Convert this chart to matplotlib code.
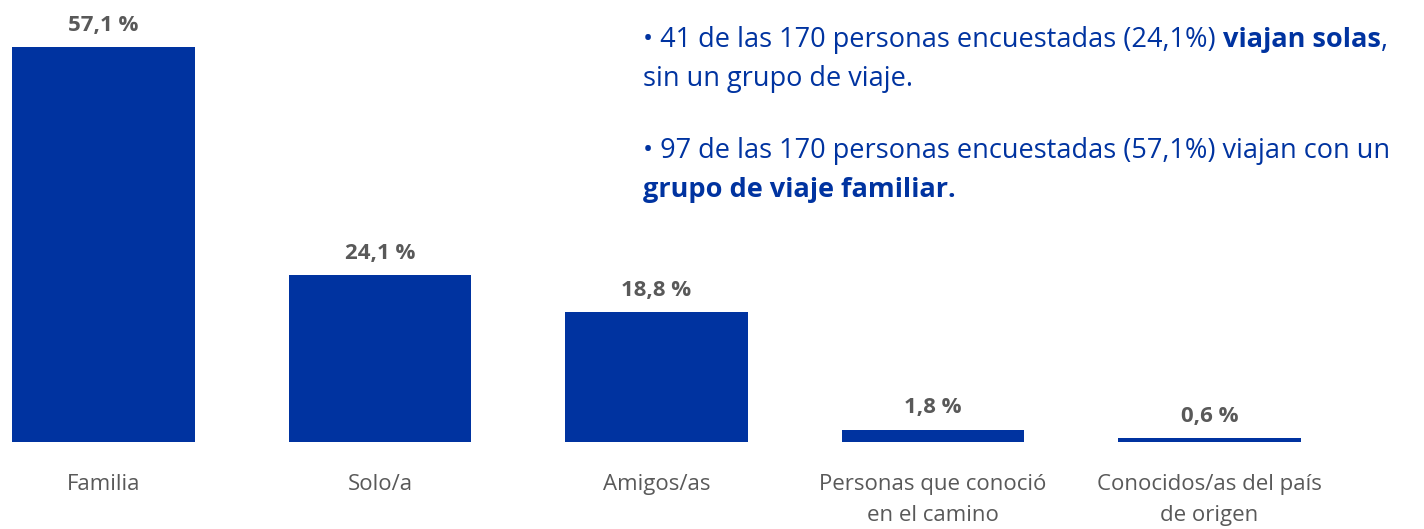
import matplotlib
matplotlib.use("Agg")
import matplotlib.pyplot as plt

plt.rcParams['font.family'] = ['Open Sans', 'DejaVu Sans']

categorias = ['Familia', 'Solo/a', 'Amigos/as', 'Personas que conoció\nen el camino',
              'Conocidos/as del país\nde origen']
porcentajes = [57.1, 24.1, 18.8, 1.8, 0.6]
etiquetas = ['57,1 %', '24,1 %', '18,8 %', '1,8 %', '0,6 %']

linea1 = [('• 41 de las 170 personas encuestadas (24,1%) ', 'normal'), ('viajan solas', 'bold'), (',', 'normal')]
linea2 = [('sin un grupo de viaje.', 'normal')]
linea3 = [('• 97 de las 170 personas encuestadas (57,1%) viajan con un', 'normal')]
linea4 = [('grupo de viaje familiar.', 'bold')]

azul = '#0033A0'
gris = '#595959'

fig = plt.figure(figsize=(14.24, 5.29), dpi=100)
ax = fig.add_axes([0, 87 / 529, 1, 415 / 529])
x = list(range(len(categorias)))
ax.bar(x, porcentajes, width=0.66, color=azul)
ax.set_xlim(-103.5 / 276.5, (1424 - 103.5) / 276.5)
ax.set_ylim(0, 60)
for xi, v, t in zip(x, porcentajes, etiquetas):
    ax.annotate(t, (xi, v), xytext=(0, 8), textcoords='offset points',
                ha='center', va='bottom', fontsize=16, fontweight='bold', color=gris)
ax.set_xticks(x)
ax.set_xticklabels(categorias, fontsize=16, color=gris, linespacing=1.65)
ax.tick_params(axis='x', length=0, pad=23)
ax.set_yticks([])
for s in ax.spines.values():
    s.set_visible(False)

# bloque de texto con partes en negrita
fig.canvas.draw()
renderer = fig.canvas.get_renderer()
x0 = 643
for y_px, partes in [(40, linea1), (79, linea2), (151, linea3), (190, linea4)]:
    xp = x0
    for texto, peso in partes:
        t = fig.text(xp / 1424, 1 - y_px / 529, texto, fontsize=19.5, fontweight=peso,
                     color=azul, ha='left', va='center')
        xp += t.get_window_extent(renderer).width

fig.savefig('out.png', dpi=100)
